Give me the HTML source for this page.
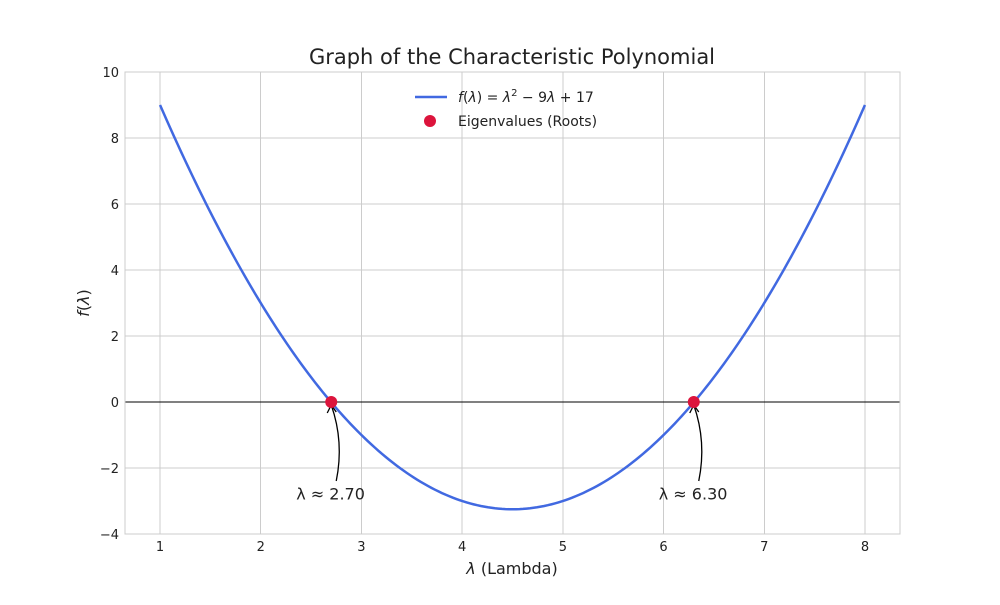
<!DOCTYPE html>
<html><head><meta charset="utf-8"><style>
body{margin:0;background:#fff;font-family:"Liberation Sans","DejaVu Sans",sans-serif}
svg text{font-family:"DejaVu Sans","Liberation Sans",sans-serif}
</style></head><body>
<svg id="chart" width="1000" height="600" xmlns="http://www.w3.org/2000/svg">
<rect width="1000" height="600" fill="#fff"/>
<g id="grid" shape-rendering="crispEdges"></g>
<g id="plot"></g>
<rect x="125" y="72" width="775" height="462" fill="none" stroke="#ccc" stroke-width="1" shape-rendering="crispEdges"/>
<g id="ticks"></g>
<text x="512" y="64" font-size="21" text-anchor="middle" fill="#222">Graph of the Characteristic Polynomial</text>
<text x="512" y="574" font-size="16" text-anchor="middle" fill="#222"><tspan font-style="italic">λ</tspan> (Lambda)</text>
<text x="89" y="303" font-size="16" text-anchor="middle" fill="#222" transform="rotate(-90 89 303)"><tspan font-style="italic">f</tspan>(<tspan font-style="italic">λ</tspan>)</text>
<g>
<line x1="415" y1="97" x2="447" y2="97" stroke="#4169e1" stroke-width="2.5"/>
<text x="458" y="102" font-size="14" fill="#222"><tspan font-style="italic">f</tspan>(<tspan font-style="italic">λ</tspan>) = <tspan font-style="italic">λ</tspan><tspan dy="-6" font-size="10">2</tspan><tspan dy="6"> − 9</tspan><tspan font-style="italic">λ</tspan> + 17</text>
<circle cx="430" cy="121" r="6" fill="#dc143c"/>
<text x="458" y="126" font-size="14" fill="#222">Eigenvalues (Roots)</text>
</g>
</svg>
<script>
const coefficients=[1,-9,17];
const xDomain=[1,8];
const roots=[2.70,6.30];
const rootLabels=["λ ≈ 2.70","λ ≈ 6.30"];
const xTicks=[1,2,3,4,5,6,7,8];
const yTicks=[-4,-2,0,2,4,6,8,10];
const yTickLabels=["−4","−2","0","2","4","6","8","10"];
const X0=125,X1=900,Y0=534,Y1=72,xmin=0.652,xmax=8.348,ymin=-4,ymax=10;
const sx=v=>X0+(v-xmin)/(xmax-xmin)*(X1-X0);
const sy=v=>Y0-(v-ymin)/(ymax-ymin)*(Y0-Y1);
const f=x=>coefficients[0]*x*x+coefficients[1]*x+coefficients[2];
const NS="http://www.w3.org/2000/svg";
function mk(tag,attrs,parent){const e=document.createElementNS(NS,tag);for(const k in attrs)e.setAttribute(k,attrs[k]);parent.appendChild(e);return e;}
const grid=document.getElementById('grid'),plot=document.getElementById('plot'),ticks=document.getElementById('ticks');
xTicks.forEach(t=>{const l=mk('line',{x1:sx(t),x2:sx(t),y1:Y1,y2:Y0,stroke:'#ccc','stroke-width':1},grid);


const tx=mk('text',{x:sx(t),y:551,'font-size':13,'text-anchor':'middle',fill:'#222'},ticks);tx.textContent=t;

});
yTicks.forEach((t,i)=>{const l=mk('line',{x1:X0,x2:X1,y1:sy(t),y2:sy(t),stroke:'#ccc','stroke-width':1},grid);


const tx=mk('text',{x:119,y:sy(t)+5,'font-size':13,'text-anchor':'end',fill:'#222'},ticks);tx.textContent=yTickLabels[i];

});
const zl=mk('line',{x1:X0,x2:X1,y1:sy(0),y2:sy(0),stroke:'#000','stroke-width':1,'shape-rendering':'crispEdges'},plot);


let d='';for(let i=0;i<=200;i++){const x=xDomain[0]+(xDomain[1]-xDomain[0])*i/200;d+=(i?'L':'M')+sx(x).toFixed(2)+' '+sy(f(x)).toFixed(2);}
const cp=mk('path',{d:d,fill:'none',stroke:'#4169e1','stroke-width':2.5},plot);


roots.forEach((r,i)=>{const px=sx(r),py=sy(0);
const tx=px-35,ty=sy(-2.8);
const a=mk('path',{d:`M${px+5} ${py+79} Q${px+13} ${py+40} ${px} ${py+3}`,fill:'none',stroke:'#000','stroke-width':1.3},plot);


const h=mk('path',{d:`M${px-4} ${py+11} L${px} ${py+3} L${px+5} ${py+10}`,fill:'none',stroke:'#000','stroke-width':1.3},plot);


const c=mk('circle',{cx:px,cy:py,r:6,fill:'#dc143c'},plot);


const t=mk('text',{x:tx,y:ty+5,'font-size':16,fill:'#222'},plot);t.textContent=rootLabels[i];

});
</script>
</body></html>
